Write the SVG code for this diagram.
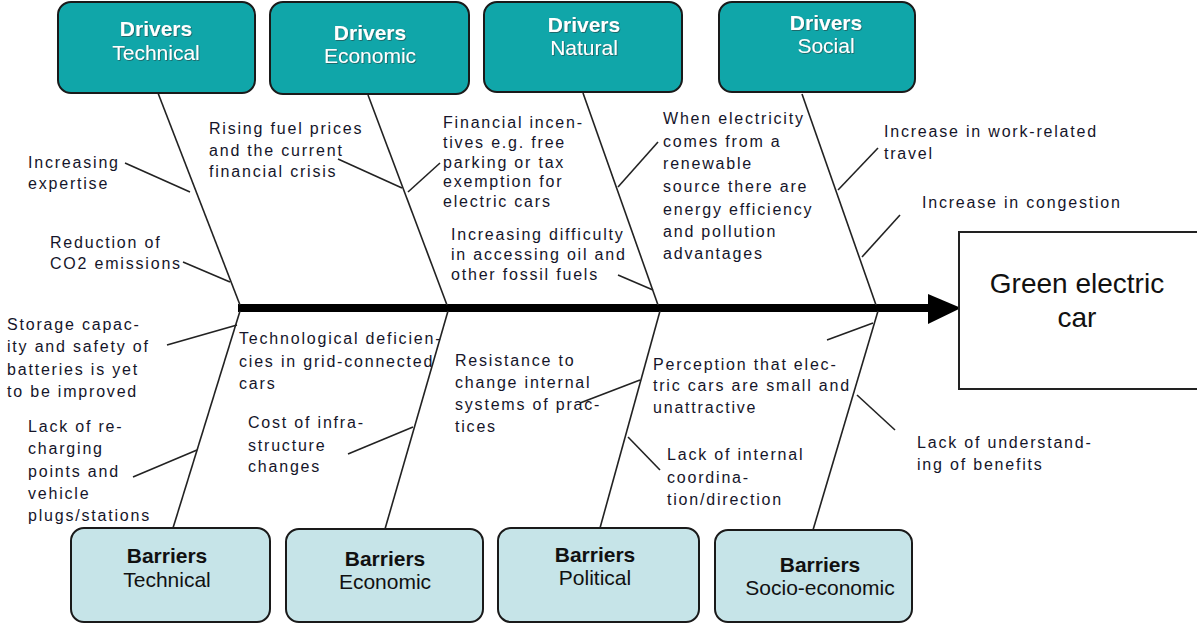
<svg xmlns="http://www.w3.org/2000/svg" width="1197" height="623" viewBox="0 0 1197 623">
<style>
.bg{fill:#ffffff}
.drv rect{fill:#10a6a9;stroke:#1a1a1a;stroke-width:2}
.bar rect{fill:#c6e4e8;stroke:#1a1a1a;stroke-width:2}
.drv text{fill:#ffffff;font-family:"Liberation Sans",Arial,sans-serif;font-size:21px;text-anchor:middle;filter:url(#sh)}
.bar text{fill:#111111;font-family:"Liberation Sans",Arial,sans-serif;font-size:21px;text-anchor:middle}
.b{font-weight:bold}
.lbl{fill:#15152a;font-family:"Liberation Sans",Arial,sans-serif;font-size:16px;letter-spacing:1.8px}
.bone{stroke:#222222;stroke-width:1.6;fill:none}
.spine{stroke:#000000;stroke-width:8;fill:none}
.goal rect{fill:#ffffff;stroke:#222222;stroke-width:2}
.goal text{fill:#111111;font-family:"Liberation Sans",Arial,sans-serif;font-size:28px;text-anchor:middle}
</style>
<defs>
  <filter id="sh" x="-10%" y="-30%" width="130%" height="170%">
    <feDropShadow dx="0.8" dy="0.8" stdDeviation="0.7" flood-color="#2a3a3a" flood-opacity="0.7"/>
  </filter>
</defs>
<rect class="bg" x="0" y="0" width="1197" height="623"/>

<g id="connectors">
  <line class="spine" x1="238" y1="308" x2="930" y2="308"/>
  <polygon points="928,294 961,308 928,324" fill="#000000"/>
  <line class="bone" x1="158" y1="93" x2="240" y2="305"/>
  <line class="bone" x1="368" y1="95" x2="447" y2="305"/>
  <line class="bone" x1="583" y1="93" x2="658" y2="305"/>
  <line class="bone" x1="802" y1="94" x2="876" y2="305"/>
  <line class="bone" x1="240" y1="311" x2="173" y2="528"/>
  <line class="bone" x1="448" y1="311" x2="385" y2="529"/>
  <line class="bone" x1="660" y1="311" x2="600" y2="528"/>
  <line class="bone" x1="878" y1="311" x2="813" y2="530"/>
  <line class="bone" x1="125" y1="163" x2="190" y2="192"/>
  <line class="bone" x1="183" y1="262" x2="230" y2="282"/>
  <line class="bone" x1="338" y1="159" x2="402" y2="188"/>
  <line class="bone" x1="408" y1="192" x2="440" y2="163"/>
  <line class="bone" x1="618" y1="187" x2="658" y2="142"/>
  <line class="bone" x1="618" y1="275" x2="653" y2="290"/>
  <line class="bone" x1="838" y1="190" x2="878" y2="148"/>
  <line class="bone" x1="862" y1="257" x2="900" y2="215"/>
  <line class="bone" x1="167" y1="345" x2="237" y2="325"/>
  <line class="bone" x1="133" y1="477" x2="197" y2="450"/>
  <line class="bone" x1="348" y1="454" x2="413" y2="427"/>
  <line class="bone" x1="580" y1="403" x2="640" y2="380"/>
  <line class="bone" x1="628" y1="437" x2="660" y2="470"/>
  <line class="bone" x1="827" y1="340" x2="873" y2="323"/>
  <line class="bone" x1="857" y1="395" x2="895" y2="430"/>
</g>

<g id="drivers-technical" class="drv">
  <rect x="58" y="2" width="197" height="91" rx="13"/>
  <text x="156" y="36" class="b">Drivers</text>
  <text x="156" y="60">Technical</text>
</g>
<g id="drivers-economic" class="drv">
  <rect x="270" y="2" width="199" height="92" rx="13"/>
  <text x="370" y="40" class="b">Drivers</text>
  <text x="370" y="63">Economic</text>
</g>
<g id="drivers-natural" class="drv">
  <rect x="484" y="2" width="198" height="90" rx="13"/>
  <text x="584" y="32" class="b">Drivers</text>
  <text x="584" y="55">Natural</text>
</g>
<g id="drivers-social" class="drv">
  <rect x="719" y="2" width="196" height="90" rx="13"/>
  <text x="826" y="30" class="b">Drivers</text>
  <text x="826" y="53">Social</text>
</g>

<g id="barriers-technical" class="bar">
  <rect x="71" y="528" width="199" height="94" rx="13"/>
  <text x="167" y="563" class="b">Barriers</text>
  <text x="167" y="587">Technical</text>
</g>
<g id="barriers-economic" class="bar">
  <rect x="286" y="529" width="197" height="93" rx="13"/>
  <text x="385" y="566" class="b">Barriers</text>
  <text x="385" y="589">Economic</text>
</g>
<g id="barriers-political" class="bar">
  <rect x="498" y="528" width="201" height="94" rx="13"/>
  <text x="595" y="562" class="b">Barriers</text>
  <text x="595" y="585">Political</text>
</g>
<g id="barriers-socio-economic" class="bar">
  <rect x="715" y="530" width="197" height="92" rx="13"/>
  <text x="820" y="572" class="b">Barriers</text>
  <text x="820" y="595">Socio-economic</text>
</g>

<g id="goal" class="goal">
  <rect x="959" y="232" width="240" height="157"/>
  <text x="1077" y="293">Green electric</text>
  <text x="1077" y="327">car</text>
</g>

<g id="labels">
  <text class="lbl" x="28" y="168">Increasing</text>
  <text class="lbl" x="28" y="189">expertise</text>
  <text class="lbl" x="50" y="248">Reduction of</text>
  <text class="lbl" x="50" y="269">CO2 emissions</text>
  <text class="lbl" x="209" y="134">Rising fuel prices</text>
  <text class="lbl" x="209" y="156">and the current</text>
  <text class="lbl" x="209" y="177">financial crisis</text>
  <text class="lbl" x="443" y="128">Financial incen-</text>
  <text class="lbl" x="443" y="148">tives e.g. free</text>
  <text class="lbl" x="443" y="168">parking or tax</text>
  <text class="lbl" x="443" y="187">exemption for</text>
  <text class="lbl" x="443" y="207">electric cars</text>
  <text class="lbl" x="451" y="240">Increasing difficulty</text>
  <text class="lbl" x="451" y="260">in accessing oil and</text>
  <text class="lbl" x="451" y="280">other fossil fuels</text>
  <text class="lbl" x="663" y="124">When electricity</text>
  <text class="lbl" x="663" y="147">comes from a</text>
  <text class="lbl" x="663" y="169">renewable</text>
  <text class="lbl" x="663" y="192">source there are</text>
  <text class="lbl" x="663" y="215">energy efficiency</text>
  <text class="lbl" x="663" y="237">and pollution</text>
  <text class="lbl" x="663" y="259">advantages</text>
  <text class="lbl" x="884" y="137">Increase in work-related</text>
  <text class="lbl" x="884" y="159">travel</text>
  <text class="lbl" x="922" y="208">Increase in congestion</text>
  <text class="lbl" x="7" y="330">Storage capac-</text>
  <text class="lbl" x="7" y="352">ity and safety of</text>
  <text class="lbl" x="7" y="375">batteries is yet</text>
  <text class="lbl" x="7" y="397">to be improved</text>
  <text class="lbl" x="28" y="432">Lack of re-</text>
  <text class="lbl" x="28" y="454">charging</text>
  <text class="lbl" x="28" y="477">points and</text>
  <text class="lbl" x="28" y="499">vehicle</text>
  <text class="lbl" x="28" y="521">plugs/stations</text>
  <text class="lbl" x="239" y="344">Technological deficien-</text>
  <text class="lbl" x="239" y="367">cies in grid-connected</text>
  <text class="lbl" x="239" y="389">cars</text>
  <text class="lbl" x="248" y="428">Cost of infra-</text>
  <text class="lbl" x="248" y="451">structure</text>
  <text class="lbl" x="248" y="472">changes</text>
  <text class="lbl" x="455" y="366">Resistance to</text>
  <text class="lbl" x="455" y="388">change internal</text>
  <text class="lbl" x="455" y="410">systems of prac-</text>
  <text class="lbl" x="455" y="432">tices</text>
  <text class="lbl" x="653" y="370">Perception that elec-</text>
  <text class="lbl" x="653" y="391">tric cars are small and</text>
  <text class="lbl" x="653" y="413">unattractive</text>
  <text class="lbl" x="667" y="460">Lack of internal</text>
  <text class="lbl" x="667" y="483">coordina-</text>
  <text class="lbl" x="667" y="505">tion/direction</text>
  <text class="lbl" x="917" y="448">Lack of understand-</text>
  <text class="lbl" x="917" y="470">ing of benefits</text>
</g>
</svg>
